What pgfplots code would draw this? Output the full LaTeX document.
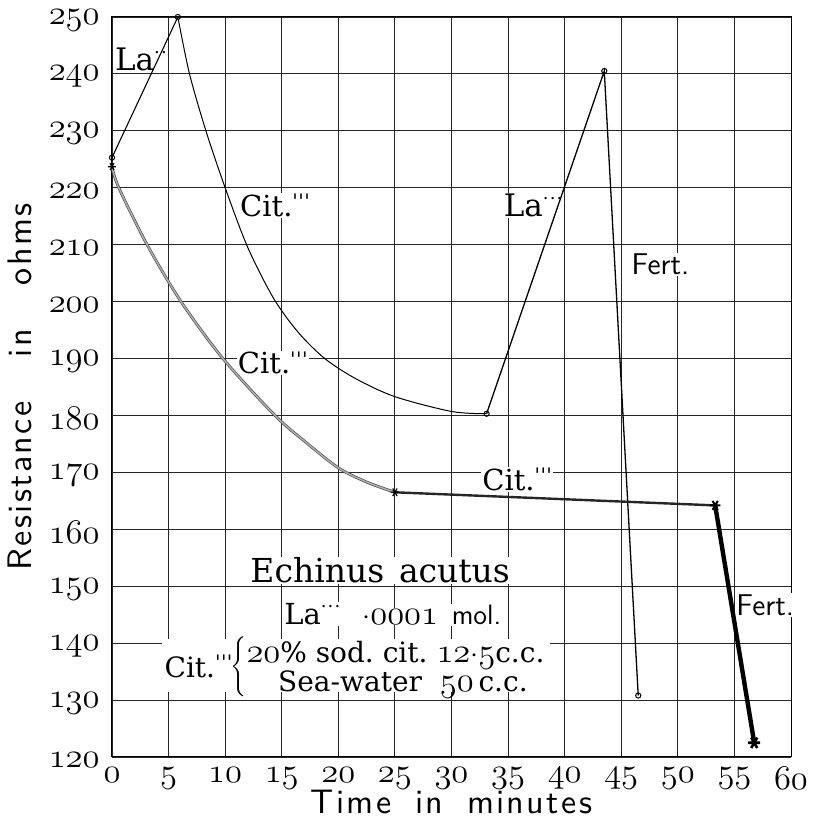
\documentclass[border=0pt]{standalone}
\usepackage{pgfplots}
\pgfplotsset{compat=1.18}
\usepackage{fontspec}
\setmainfont{DejaVu Serif}
\newfontfamily\lsans{lmsans10-regular.otf}[LetterSpace=7]
\newcommand\osf[1]{{\fontsize{17}{17}\selectfont$\mathnormal{#1}$}}
\newcommand\osfy[1]{{\fontsize{19}{19}\selectfont$\mathnormal{#1}$}}
\newcommand\osft[1]{{\fontsize{19}{19}\selectfont$\mathnormal{#1}$}}
\newcommand\tri{\raisebox{8.5pt}{\fontsize{9}{9}\selectfont.\kern0.6pt.\kern0.6pt.}}
\newcommand\di{\raisebox{8.5pt}{\fontsize{9}{9}\selectfont.\kern0.6pt.}}
\newcommand\pr{\raisebox{3.8pt}{\fontsize{10}{10}\selectfont\textquotesingle\kern0.2pt\textquotesingle\kern0.2pt\textquotesingle}}
\tikzset{
  lbl/.style={font=\fontsize{14.5}{14.5}\selectfont, inner sep=0.5pt, fill=white},
  rec/.style={font=\fontsize{14}{14}\selectfont, inner sep=0.3pt},
  sans/.style={font=\sffamily\fontsize{15}{15}\selectfont, inner sep=0.5pt, fill=white},
}
\begin{document}
\begin{tikzpicture}
\begin{axis}[
  scale only axis, width=339.5pt, height=370pt,
  xmin=0, xmax=60, ymin=120, ymax=250,
  enlargelimits=false, clip=false,
  xtick={0,5,...,60}, ytick={120,130,...,250},
  xticklabels={\osf{0},\osf{5},\osf{10},\osf{15},\osf{20},\osf{25},\osf{30},\osf{35},\osf{40},\osf{45},\osf{50},\osf{55},\osf{60}},
  yticklabels={\osfy{120},\osfy{130},\osfy{140},\osfy{150},\osfy{160},\osfy{170},\osfy{180},\osfy{190},\osfy{200},\osfy{210},\osfy{220},\osfy{230},\osfy{240},\osfy{250}},
  xticklabel style={inner sep=0pt, yshift=-5pt},
  yticklabel style={inner sep=0pt, xshift=-6pt, yshift=-1.5pt},
  major tick length=0pt,
  grid=major, grid style={black!85, line width=0.45pt},
  axis line style={black, line width=0.5pt},
  xlabel={Time\hspace{0.7em}in\hspace{0.7em}minutes},
  ylabel={Resistance\hspace{1.3em}in\hspace{1.3em}ohms},
  every axis x label/.style={at={(axis description cs:0.5,0)}, anchor=base, yshift=-28pt, inner sep=0pt, font=\lsans\fontsize{17}{17}\selectfont},
  every axis y label/.style={at={(axis description cs:0,0.5)}, xshift=-40pt, rotate=90, anchor=south, inner sep=0pt, font=\lsans\fontsize{17}{17}\selectfont},
]
% white block behind the recipe text
\fill[white] (axis cs:4.4,131.4) rectangle (axis cs:38.7,140.7);
% labels
\node[lbl, font=\fontsize{15.5}{15.5}\selectfont, anchor=base west] at (axis cs:0.15,240.6) {La\di};
\node[lbl, anchor=base west] at (axis cs:11.2,215) {Cit.\pr};
\node[lbl, anchor=base west] at (axis cs:11.0,187.3) {Cit.\pr};
\node[lbl, font=\fontsize{15.5}{15.5}\selectfont, anchor=base west] at (axis cs:34.5,215) {La\tri};
\node[sans, anchor=base west] at (axis cs:45.8,204.8) {Fert.};
\node[lbl, anchor=base west] at (axis cs:32.6,166.8) {Cit.\pr};
\node[sans, anchor=base west] at (axis cs:55.05,144.9) {Fert.};
\node[lbl, font=\fontsize{16.5}{16.5}\selectfont, anchor=base] at (axis cs:23.7,150.6) {Echinus\hspace{0.45em}acutus};
\node[lbl, anchor=base west] at (axis cs:15.1,143.3) {La\tri};
\node[lbl, anchor=base west] at (axis cs:22.0,143.3) {$\cdot$\osft{0001}};
\node[sans, font=\sffamily\fontsize{14}{14}\selectfont, anchor=base west] at (axis cs:29.9,143.3) {mol.};
\node[rec, anchor=base west] at (axis cs:4.56,134.05) {Cit.\pr};
\node[anchor=center, inner sep=0pt] at (axis cs:11.25,135.9) {$\left\{\rule[-12pt]{0pt}{24pt}\right.$};
\node[rec, anchor=base west] at (axis cs:11.8,136.6) {\osft{20}\% sod.\ cit.\ \osft{12}$\cdot$\osft{5}c.c.};
\node[rec, anchor=base west] at (axis cs:14.6,131.5) {Sea-water\hspace{9pt}\osft{50}\,c.c.};
% upper series (circles)
\addplot[black, line width=0.5pt, smooth, no marks] coordinates {
 (5.82,250) (6.85,240) (8.3,230) (10,220) (12,209.5) (14.3,200.5) (16.5,194.5) (18.8,190) (21.5,186.5) (25,183.3) (30,180.7) (33.1,180.3)};
\addplot[black, line width=0.55pt, mark=o, mark size=1.3pt, mark options={fill=white, line width=0.5pt}] coordinates {
 (0,225.3) (5.82,250)};
\addplot[black, line width=0.65pt, mark=o, mark size=1.3pt, mark options={fill=white, line width=0.5pt}] coordinates {
 (33.1,180.3) (43.5,240.5) (46.5,130.8)};
% lower series (asterisks)
\addplot[smooth, draw=black!70, double=black!30, double distance=0.7pt, line width=0.35pt, no marks] coordinates {
 (0,223.7) (0.6,220) (3.1,210) (6.1,200) (9.8,190) (14.4,180) (17,175.5) (20,170.8) (22.5,168.3) (25,166.5)};
\addplot[black!85, line width=1.2pt, no marks] coordinates {(25,166.5) (53.3,164.2)};
\addplot[black, line width=2.2pt, no marks] coordinates {(53.3,164.2) (56.75,122.5)};
\addplot[only marks, black, mark=asterisk, mark size=2pt, mark options={rotate=90, line width=0.6pt}] coordinates {(0,223.7)};
\addplot[only marks, black, mark=asterisk, mark size=2.2pt, mark options={rotate=90, line width=0.6pt}] coordinates {(25,166.5)};
\addplot[only marks, black, mark=asterisk, mark size=2.6pt, mark options={rotate=90, line width=1pt}] coordinates {(53.3,164.2)};
\addplot[only marks, black, mark=asterisk, mark size=3pt, mark options={rotate=90, line width=1.3pt}] coordinates {(56.75,122.5)};
\end{axis}
\pgfresetboundingbox
\useasboundingbox ([xshift=-56pt,yshift=-30pt]current axis.south west) rectangle ([xshift=12.5pt,yshift=8.5pt]current axis.north east);
\end{tikzpicture}
\end{document}
